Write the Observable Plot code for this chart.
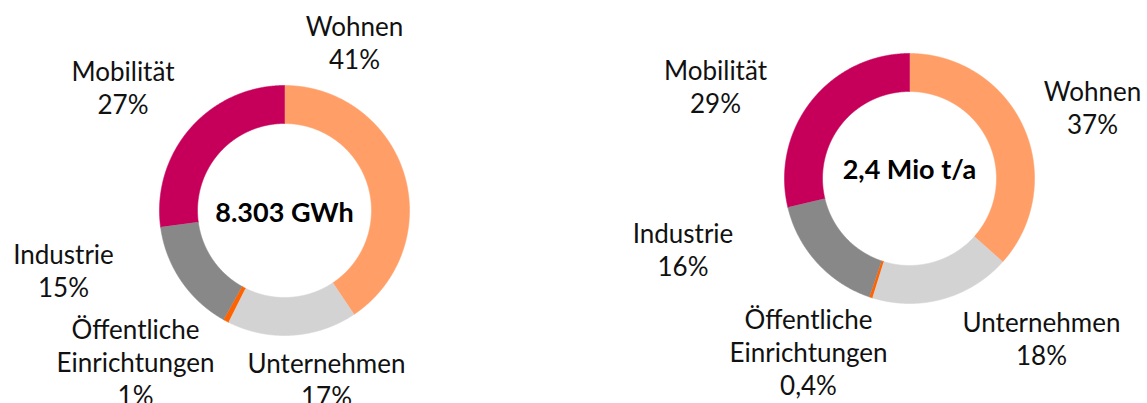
<!DOCTYPE html>
<html><head><meta charset="utf-8">
<script src="https://cdn.jsdelivr.net/npm/d3@7"></script>
<script src="https://cdn.jsdelivr.net/npm/@observablehq/plot@0.6"></script>
<style>html,body{margin:0;padding:0;background:#fff;overflow:hidden} svg{display:block}</style>
</head><body><div id="chart"></div>
<script>
// ---- data ----
const categories = ["Wohnen", "Unternehmen", "Öffentliche\nEinrichtungen", "Industrie", "Mobilität"];
const colors = ["#FF9E66", "#D3D3D3", "#FF6200", "#878887", "#C6005A"];
const energyShares = [40.6, 16.8, 0.7, 14.8, 27.1];
const energyLabels = ["41%", "17%", "1%", "15%", "27%"];
const emissionShares = [36.6, 18.2, 0.4, 16.1, 28.7];
const emissionLabels = ["37%", "18%", "0,4%", "16%", "29%"];
const centerTitles = ["8.303 GWh", "2,4 Mio t/a"];

// ---- layout ----
const W = 1147, H = 403;
const rOuter = 125, rInner = 87;
const donuts = [
  {cx: 284, cy: 210, shares: energyShares, labels: energyLabels, title: centerTitles[0], titleDy: 2.5,
   offsets: [[70, -168.5], [42, 168], [-149, 151], [-221, 59], [-161.5, -123.5]]},
  {cx: 909, cy: 178, shares: emissionShares, labels: emissionLabels, title: centerTitles[1], titleDy: -8.5,
   offsets: [[183, -71.5], [132, 159], [-101, 173], [-226.5, 70.5], [-194, -93]]}
];

// build slice polygons from the share values
const slicePts = [];
const labelRows = [];
const titleRows = [];
donuts.forEach((d, di) => {
  const total = d3.sum(d.shares);
  let acc = 0;
  d.shares.forEach((v, i) => {
    const a0 = acc / total * 2 * Math.PI;
    acc += v;
    const a1 = acc / total * 2 * Math.PI;
    const n = Math.max(2, Math.ceil((a1 - a0) / (Math.PI / 720)));
    const key = di + "-" + i;
    for (let k = 0; k <= n; k++) {
      const a = a0 + (a1 - a0) * k / n;
      slicePts.push({key, cat: categories[i], x: d.cx + rOuter * Math.sin(a), y: d.cy - rOuter * Math.cos(a)});
    }
    for (let k = n; k >= 0; k--) {
      const a = a0 + (a1 - a0) * k / n;
      slicePts.push({key, cat: categories[i], x: d.cx + rInner * Math.sin(a), y: d.cy - rInner * Math.cos(a)});
    }
    labelRows.push({x: d.cx + d.offsets[i][0], y: d.cy + d.offsets[i][1], text: categories[i] + "\n" + d.labels[i]});
  });
  titleRows.push({x: d.cx, y: d.cy + d.titleDy, text: d.title});
});

const chart = Plot.plot({
  width: W, height: H,
  margin: 0,
  style: {fontFamily: "Lato, 'Open Sans', sans-serif", background: "#fff"},
  x: {domain: [0, W], range: [0, W], axis: null},
  y: {domain: [0, H], range: [0, H], axis: null},
  color: {domain: categories, range: colors},
  marks: [
    Plot.line(slicePts, {x: "x", y: "y", z: "key", fill: "cat", stroke: "cat", strokeWidth: 0.6, curve: "linear"}),
    Plot.text(labelRows, {x: "x", y: "y", text: "text", fontSize: 26, lineHeight: 1.28, fill: "#111", textAnchor: "middle"}),
    Plot.text(titleRows, {x: "x", y: "y", text: "text", fontSize: 27, fontWeight: "bold", fill: "#000", textAnchor: "middle"})
  ]
});
document.getElementById("chart").appendChild(chart);
</script>
</body></html>
